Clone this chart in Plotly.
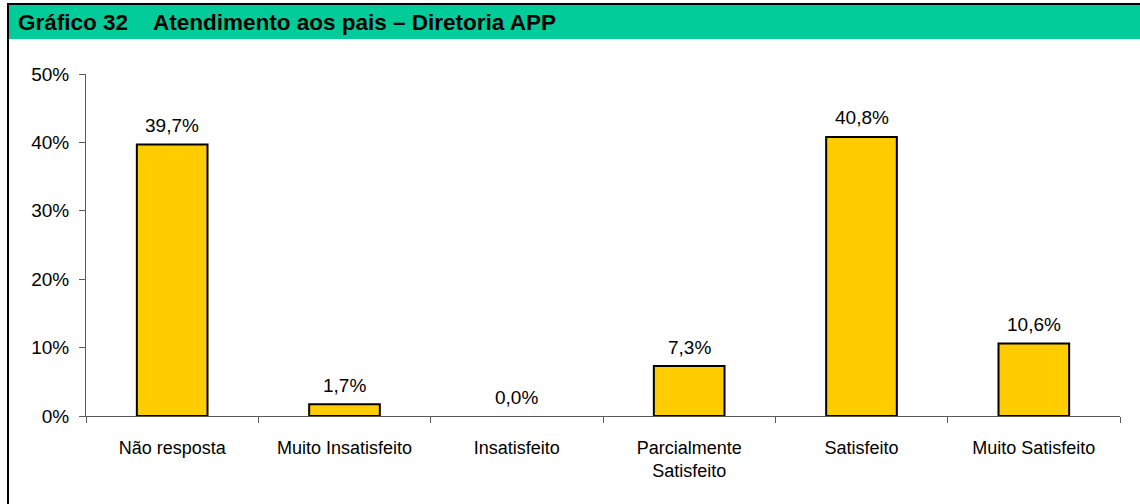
import plotly.graph_objects as go

CATEGORIES = ['Não resposta', 'Muito Insatisfeito', 'Insatisfeito',
              'Parcialmente<br>Satisfeito', 'Satisfeito', 'Muito Satisfeito']
VALUES = [0.397, 0.017, 0.0, 0.073, 0.408, 0.106]
TICK_VALUES = [0, 0.1, 0.2, 0.3, 0.4, 0.5]

BAR_COLOUR = '#FFCC00'
HEADER_COLOUR = '#00CC99'
AXIS_COLOUR = '#5a5a5a'
FONT = 'Arial, Liberation Sans, sans-serif'

W, H = 1140, 504
L, R, T, B = 86, 20, 74, 88
PW, PH = W - L - R, H - T - B


def px_x(x):
    """pixel x -> paper x"""
    return (x - L) / PW


def px_y(y):
    """pixel y (from top) -> paper y"""
    return (H - B - y) / PH


fig = go.Figure(go.Bar(
    x=CATEGORIES,
    y=VALUES,
    width=0.41,
    marker=dict(color=BAR_COLOUR,
                line=dict(color='black', width=[2 if v > 0 else 0 for v in VALUES])),
    hoverinfo='skip',
))

# value labels above the bars
for cat, val in zip(CATEGORIES, VALUES):
    fig.add_annotation(x=cat, y=val, text=f'{val * 100:.1f}%'.replace('.', ','),
                       showarrow=False, yanchor='middle', yshift=19,
                       font=dict(family=FONT, size=19, color='black'))

# header bar and frame
fig.add_shape(type='rect', xref='paper', yref='paper',
              x0=px_x(9), x1=px_x(W + 5), y0=px_y(39), y1=px_y(5),
              fillcolor=HEADER_COLOUR, line=dict(width=0), layer='below')
fig.add_shape(type='line', xref='paper', yref='paper',
              x0=px_x(7), x1=px_x(W + 5), y0=px_y(4), y1=px_y(4),
              line=dict(color='black', width=2))
fig.add_shape(type='line', xref='paper', yref='paper',
              x0=px_x(8), x1=px_x(8), y0=px_y(3), y1=px_y(H + 5),
              line=dict(color='black', width=2))

fig.add_annotation(xref='paper', yref='paper', x=px_x(16), y=px_y(23),
                   xanchor='left', yanchor='middle', showarrow=False,
                   text='<b>Gráfico 32</b>',
                   font=dict(family=FONT, size=22.5, color='black'))
fig.add_annotation(xref='paper', yref='paper', x=px_x(151), y=px_y(23),
                   xanchor='left', yanchor='middle', showarrow=False,
                   text='<b>Atendimento aos pais – Diretoria APP</b>',
                   font=dict(family=FONT, size=22.5, color='black'))

fig.update_layout(
    width=W, height=H,
    margin=dict(l=L, r=R, t=T, b=B),
    paper_bgcolor='white', plot_bgcolor='white',
    font=dict(family=FONT, size=19, color='black'),
    showlegend=False,
)
fig.update_xaxes(showline=True, linecolor=AXIS_COLOUR, linewidth=1,
                 ticks='outside', tickson='boundaries', ticklen=6,
                 tickcolor=AXIS_COLOUR, showgrid=False,
                 tickfont=dict(size=18), ticklabelstandoff=15, fixedrange=True)
fig.update_yaxes(range=[0, 0.5], tickvals=TICK_VALUES, tickformat='.0%',
                 showline=True, linecolor=AXIS_COLOUR, linewidth=1,
                 ticks='outside', ticklen=6, tickcolor=AXIS_COLOUR,
                 ticklabelstandoff=6, showgrid=False, zeroline=False,
                 fixedrange=True)

fig.write_html('out.html', config={'displayModeBar': False},
               post_script="document.body.style.margin = '0';")
